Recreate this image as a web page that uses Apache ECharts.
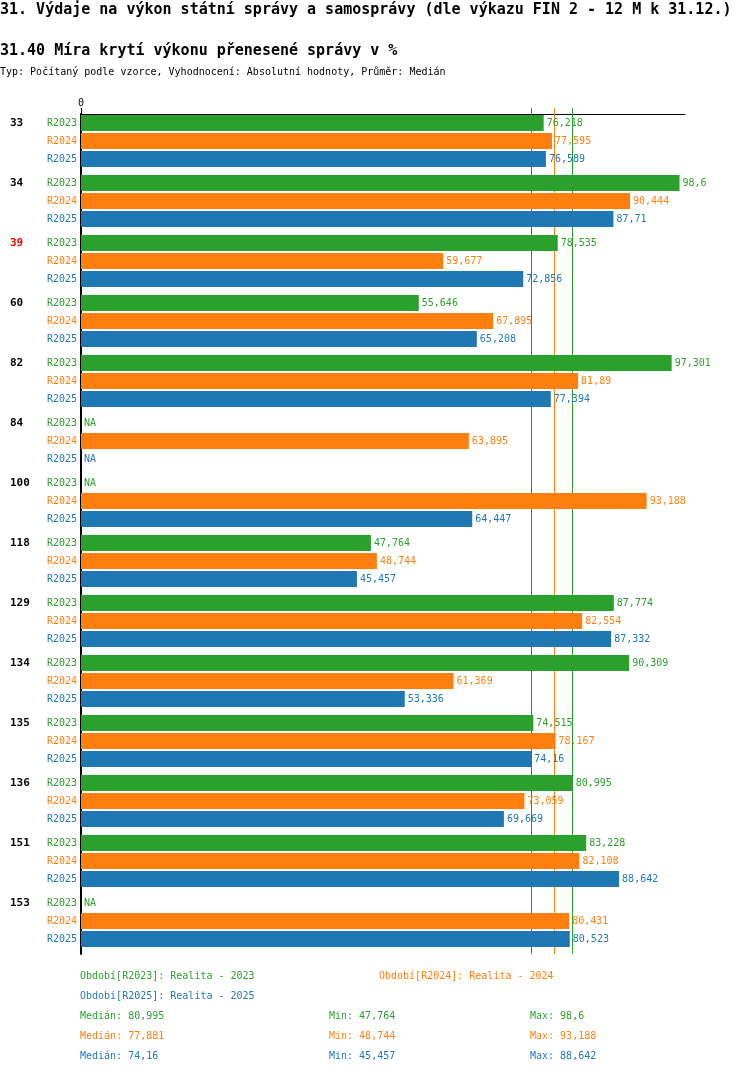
<!DOCTYPE html>
<html><head><meta charset="utf-8">
<script src="https://cdn.jsdelivr.net/npm/echarts@6/dist/echarts.min.js"></script>
<style>html,body{margin:0;padding:0;background:#fff}#c{width:750px;height:1074px}</style>
</head><body><div id="c"></div>
<script>
const categories = ['33','34','39','60','82','84','100','118','129','134','135','136','151','153'];
const highlighted = ['39'];
const seriesNames = ['R2023','R2024','R2025'];
const seriesColors = ['#2ca02c','#ff7f0e','#1f77b4'];
const r2023 = [76.218, 98.6, 78.535, 55.646, 97.301, null, null, 47.764, 87.774, 90.309, 74.515, 80.995, 83.228, null];
const r2024 = [77.595, 90.444, 59.677, 67.895, 81.89, 63.895, 93.188, 48.744, 82.554, 61.369, 78.167, 73.059, 82.108, 80.431];
const r2025 = [76.589, 87.71, 72.856, 65.208, 77.394, null, 64.447, 45.457, 87.332, 53.336, 74.16, 69.669, 88.642, 80.523];
const medians = [80.995, 77.881, 74.16];
const mins = [47.764, 48.744, 45.457];
const maxs = [98.6, 93.188, 88.642];
const periodLabels = ['Období[R2023]: Realita - 2023', 'Období[R2024]: Realita - 2024', 'Období[R2025]: Realita - 2025'];
const titleText = '31. Výdaje na výkon státní správy a samosprávy (dle výkazu FIN 2 - 12 M k 31.12.)';
const subtitleText = '31.40 Míra krytí výkonu přenesené správy v %';
const typeText = 'Typ: Počítaný podle vzorce, Vyhodnocení: Absolutní hodnoty, Průměr: Medián';
const axisMax = 99.5;

const FONT = "'DejaVu Sans Mono', 'Liberation Mono', monospace";
const seriesData = [r2023, r2024, r2025];
const fmt = v => String(v).replace('.', ',');

const chart = echarts.init(document.getElementById('c'), null, {renderer: 'canvas'});

const rich = {
  g: {width: 37, align: 'left', fontWeight: 'bold', fontSize: 11, color: '#000', fontFamily: FONT, lineHeight: 18},
  gr: {width: 37, align: 'left', fontWeight: 'bold', fontSize: 11, color: '#ff0000', fontFamily: FONT, lineHeight: 18}
};
seriesNames.forEach((n, i) => {
  rich['s' + i] = {color: seriesColors[i], fontSize: 10, fontFamily: FONT, lineHeight: 18};
});

const series = seriesNames.map((name, i) => ({
  type: 'bar',
  name: name,
  barWidth: 16,
  barGap: '12.5%',
  z: 3,
  itemStyle: {color: seriesColors[i]},
  data: seriesData[i].map(v => v == null ? {value: 0, label: {formatter: 'NA'}} : v),
  label: {
    show: true, position: 'right', distance: 3, color: seriesColors[i],
    fontFamily: FONT, fontSize: 10, formatter: p => fmt(p.value)
  },
  markLine: {
    silent: true, symbol: 'none', z: 1, animation: false,
    label: {show: false},
    lineStyle: {color: seriesColors[i], width: 1, type: 'solid', opacity: 1},
    emphasis: {disabled: true},
    data: [{xAxis: medians[i]}]
  },
  animation: false
}));
// spacer column (no data) to reproduce the gap between groups
series.push({type: 'bar', name: 'spacer', barWidth: 4, barGap: '12.5%', data: categories.map(() => null), silent: true});

const xAxes = [{
  type: 'value', position: 'top', min: 0, max: axisMax,
  axisLine: {show: true, lineStyle: {color: '#000', width: 1}},
  axisTick: {show: true, customValues: [0], length: 6, lineStyle: {color: '#000'}},
  axisLabel: {show: true, customValues: [0], formatter: v => String(v), fontFamily: FONT, fontSize: 10, color: '#000', margin: 6},
  splitLine: {show: false}
}];
medians.forEach((m, i) => {
  xAxes.push({
    type: 'value', position: 'top', min: 0, max: axisMax,
    axisLine: {show: false},
    axisTick: {show: true, customValues: [m], length: 6, lineStyle: {color: seriesColors[i]}},
    axisLabel: {show: false},
    splitLine: {show: false}
  });
});

const graphics = [];
function txt(text, x, y, color, size, weight) {
  graphics.push({type: 'text', x: x, y: y, silent: true,
    style: {text: text, fill: color, font: (weight || 'normal') + ' ' + size + 'px ' + FONT, textVerticalAlign: 'middle', verticalAlign: 'middle'}});
}
txt(titleText, 0, 10, '#000', 15, 'bold');
txt(subtitleText, 0, 51, '#000', 15, 'bold');
txt(typeText, 0, 72, '#000', 10);
txt(periodLabels[0], 80, 976, seriesColors[0], 10);
txt(periodLabels[1], 379, 976, seriesColors[1], 10);
txt(periodLabels[2], 80, 996, seriesColors[2], 10);
for (let i = 0; i < 3; i++) {
  const y = 1016 + i * 20;
  txt('Medián: ' + fmt(medians[i]), 80, y, seriesColors[i], 10);
  txt('Min: ' + fmt(mins[i]), 329, y, seriesColors[i], 10);
  txt('Max: ' + fmt(maxs[i]), 530, y, seriesColors[i], 10);
}

chart.setOption({
  animation: false,
  backgroundColor: '#fff',
  grid: {left: 81, top: 114, width: 604, height: 840, containLabel: false, outerBoundsMode: 'none'},
  xAxis: xAxes,
  yAxis: {
    type: 'category', data: categories, inverse: true,
    axisLine: {show: true, lineStyle: {color: '#000', width: 2}},
    axisTick: {show: false},
    splitLine: {show: false},
    axisLabel: {
      show: true, interval: 0, margin: 4, align: 'right', padding: [0, 0, 6, 0],
      formatter: v => '{' + (highlighted.includes(v) ? 'gr' : 'g') + '|' + v + '}{s0|' + seriesNames[0] + '}\n{s1|' + seriesNames[1] + '}\n{s2|' + seriesNames[2] + '}',
      rich: rich
    }
  },
  series: series,
  graphic: graphics
});
</script>
</body></html>
